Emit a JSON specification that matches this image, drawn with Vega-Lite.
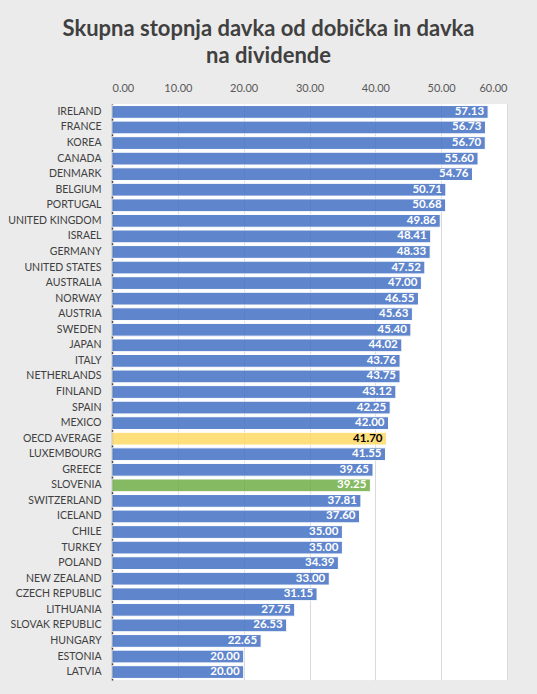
{
  "$schema": "https://vega.github.io/schema/vega-lite/v6.json",
  "width": 395,
  "height": 576,
  "autosize": {"type": "none"},
  "padding": {"left": 112, "top": 104, "right": 30, "bottom": 14},
  "background": "#ebebeb",
  "title": {
    "text": ["Skupna stopnja davka od dobička in davka", "na dividende"],
    "font": "Lato",
    "fontSize": 22,
    "fontWeight": "bold",
    "color": "#404040",
    "anchor": "middle",
    "dx": -41,
    "offset": 14,
    "lineHeight": 27
  },
  "config": {"view": {"fill": "white", "stroke": null}},
  "data": {
    "values": [
      {"country": "IRELAND", "value": 57.13, "group": "other"},
      {"country": "FRANCE", "value": 56.73, "group": "other"},
      {"country": "KOREA", "value": 56.70, "group": "other"},
      {"country": "CANADA", "value": 55.60, "group": "other"},
      {"country": "DENMARK", "value": 54.76, "group": "other"},
      {"country": "BELGIUM", "value": 50.71, "group": "other"},
      {"country": "PORTUGAL", "value": 50.68, "group": "other"},
      {"country": "UNITED KINGDOM", "value": 49.86, "group": "other"},
      {"country": "ISRAEL", "value": 48.41, "group": "other"},
      {"country": "GERMANY", "value": 48.33, "group": "other"},
      {"country": "UNITED STATES", "value": 47.52, "group": "other"},
      {"country": "AUSTRALIA", "value": 47.00, "group": "other"},
      {"country": "NORWAY", "value": 46.55, "group": "other"},
      {"country": "AUSTRIA", "value": 45.63, "group": "other"},
      {"country": "SWEDEN", "value": 45.40, "group": "other"},
      {"country": "JAPAN", "value": 44.02, "group": "other"},
      {"country": "ITALY", "value": 43.76, "group": "other"},
      {"country": "NETHERLANDS", "value": 43.75, "group": "other"},
      {"country": "FINLAND", "value": 43.12, "group": "other"},
      {"country": "SPAIN", "value": 42.25, "group": "other"},
      {"country": "MEXICO", "value": 42.00, "group": "other"},
      {"country": "OECD AVERAGE", "value": 41.70, "group": "avg"},
      {"country": "LUXEMBOURG", "value": 41.55, "group": "other"},
      {"country": "GREECE", "value": 39.65, "group": "other"},
      {"country": "SLOVENIA", "value": 39.25, "group": "slo"},
      {"country": "SWITZERLAND", "value": 37.81, "group": "other"},
      {"country": "ICELAND", "value": 37.60, "group": "other"},
      {"country": "CHILE", "value": 35.00, "group": "other"},
      {"country": "TURKEY", "value": 35.00, "group": "other"},
      {"country": "POLAND", "value": 34.39, "group": "other"},
      {"country": "NEW ZEALAND", "value": 33.00, "group": "other"},
      {"country": "CZECH REPUBLIC", "value": 31.15, "group": "other"},
      {"country": "LITHUANIA", "value": 27.75, "group": "other"},
      {"country": "SLOVAK REPUBLIC", "value": 26.53, "group": "other"},
      {"country": "HUNGARY", "value": 22.65, "group": "other"},
      {"country": "ESTONIA", "value": 20.00, "group": "other"},
      {"country": "LATVIA", "value": 20.00, "group": "other"}
    ]
  },
  "encoding": {
    "y": {
      "field": "country",
      "type": "nominal",
      "sort": null,
      "scale": {"paddingInner": 0.18, "paddingOuter": 0.1},
      "axis": {
        "title": null,
        "domainColor": "#404040",
        "domainWidth": 1.5,
        "ticks": false,
        "tickSize": 0,
        "labelFont": "Lato",
        "labelFontSize": 10.5,
        "labelColor": "#404040",
        "labelPadding": 11
      }
    },
    "x": {
      "field": "value",
      "type": "quantitative",
      "scale": {"domain": [0, 60], "nice": false},
      "axis": {
        "orient": "top",
        "title": null,
        "values": [0, 10, 20, 30, 40, 50, 60],
        "format": ".2f",
        "grid": true,
        "gridColor": "#d9d9d9",
        "domain": false,
        "ticks": false,
        "tickSize": 0,
        "labelFont": "Lato",
        "labelFontSize": 11,
        "labelColor": "#595959",
        "labelPadding": 11
      }
    }
  },
  "layer": [
    {
      "mark": {"type": "bar", "opacity": 0.85, "stroke": "white", "strokeWidth": 1},
      "encoding": {
        "color": {
          "field": "group",
          "type": "nominal",
          "scale": {"domain": ["other", "avg", "slo"], "range": ["#4472C4", "#FFD966", "#70AD47"]},
          "legend": null
        }
      }
    },
    {
      "mark": {"type": "text", "align": "right", "dx": -4, "font": "Lato", "fontSize": 11.5, "fontWeight": "bold"},
      "encoding": {
        "text": {"field": "value", "type": "quantitative", "format": ".2f"},
        "color": {"condition": {"test": "datum.group === 'avg'", "value": "#000000"}, "value": "#ffffff"}
      }
    }
  ]
}
